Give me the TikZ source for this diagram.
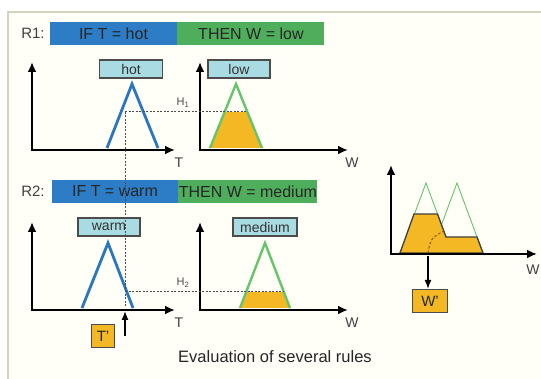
\documentclass[tikz,border=0pt]{standalone}
\usepackage{fontspec}
\setmainfont{Liberation Sans}
\usepackage{tikz}
\usetikzlibrary{arrows.meta, positioning}
\definecolor{colorIf}{HTML}{2C7CC6}
\definecolor{colorThen}{HTML}{4FAE5B}
\definecolor{colorTag}{HTML}{A9DCE2}
\definecolor{colorOut}{HTML}{F3B823}
\definecolor{colorTri}{HTML}{2A77C0}
\definecolor{colorMf}{HTML}{66C46A}
\definecolor{colorPanel}{HTML}{FFFEF7}
\definecolor{colorEdge}{HTML}{D6D2C0}
\definecolor{colorCog}{HTML}{8A5A20}

\tikzset{
    axis/.style={line width=2.6pt, line join=miter, {Latex[length=10pt,width=9pt]}-{Latex[length=10pt,width=9pt]}},
    ifbar/.style={fill=colorIf, minimum height=23pt, inner sep=0pt, text=black!85, font=\fontsize{16}{18}\selectfont},
    thenbar/.style={fill=colorThen, minimum height=23pt, inner sep=0pt, text=black!85, font=\fontsize{16}{18}\selectfont},
    rlbl/.style={text=black!75, font=\fontsize{15}{17}\selectfont},
    tag/.style={draw=black!70, fill=colorTag, line width=1.2pt, minimum height=18pt, inner sep=0pt, text=black!80, font=\fontsize{14}{16}\selectfont},
    outbox/.style={draw=black!70, fill=colorOut, line width=1.2pt, inner sep=0pt, text=black!85, font=\fontsize{15}{17}\selectfont},
    axlbl/.style={text=black!75, font=\fontsize{14}{16}\selectfont},
    hlbl/.style={text=black!70, font=\fontsize{11}{13}\selectfont},
    mfT/.style={colorTri, line width=2.8pt, line join=miter},
    mfW/.style={colorMf, line width=2.4pt, line join=miter},
    cut/.style={black!70, line width=1pt, dash pattern=on 2pt off 1.5pt},
    pointer/.style={-{Latex[length=9pt,width=7pt]}, line width=1.3pt}
}

\begin{document}
\begin{tikzpicture}[x=1pt,y=-1pt]
        \useasboundingbox (0,0) rectangle (541,379);
        \fill[colorPanel] (8,12) rectangle (541,379);
        \draw[colorEdge, line width=2pt] (8,379) -- (8,12) -- (541,12);

        % rule 1
        \draw (33,33) node[rlbl] (r1) {R1:};
        \draw (113.5,33.5) node[ifbar, minimum width=127pt] (if1) {IF T = hot};
        \node[thenbar, minimum width=147pt, right=0pt of if1] (then1) {THEN W = low};

        \draw[axis] (32,62) -- (32,150) -- (175,150);
        \draw (179,163) node[axlbl] (t1) {T};
        \draw (131,69) node[tag, minimum width=63pt] (hot) {hot};
        \draw[mfT] (107,148) -- (132,84) -- (158,148);

        \fill[colorOut] (210,148) -- (224.6,112) -- (247.4,112) -- (262,148) -- cycle;
        \draw[mfW] (210,148) -- (236,84) -- (262,148);
        \draw[axis] (200,62) -- (200,150) -- (348,150);
        \draw (352,163) node[axlbl] (w1) {W};
        \draw (239,69) node[tag, minimum width=62pt] (low) {low};
        \draw[cut] (125,112) -- (247.4,112);
        \draw (183,103) node[hlbl] (h1) {H\textsubscript{1}};

        % rule 2
        \draw (33,191) node[rlbl] (r2) {R2:};
        \draw (115,191.5) node[ifbar, minimum width=126pt] (if2) {IF T = warm};
        \node[thenbar, minimum width=139pt, right=0pt of if2] (then2) {THEN W = medium};

        \draw[axis] (32,222) -- (32,310) -- (175,310);
        \draw (179,323) node[axlbl] (t2) {T};
        \draw (109,227) node[tag, minimum width=62pt] (warm) {warm};
        \draw[mfT] (82,308) -- (108,243) -- (133,308);

        \fill[colorOut] (240,308) -- (246.2,292) -- (283.8,292) -- (290,308) -- cycle;
        \draw[mfW] (240,308) -- (265,243) -- (290,308);
        \draw[axis] (200,222) -- (200,310) -- (348,310);
        \draw (352,323) node[axlbl] (w2) {W};
        \draw (265,227) node[tag, minimum width=64pt] (medium) {medium};
        \draw[cut] (125,292) -- (283.8,292);
        \draw (183,283) node[hlbl] (h2) {H\textsubscript{2}};

        % input value
        \draw[cut] (125,112) -- (125,306);
        \coordinate (tc) at (125,311);
        \draw (103,336) node[outbox, minimum size=23pt] (tin) {T'};
        \draw[pointer] (tc |- tin) -- (tc);

        % aggregation
        \draw[mfW, line width=0.9pt] (400,253) -- (426,183) -- (452,253);
        \draw[mfW, line width=0.9pt] (431,253) -- (457,183) -- (483,253);
        \filldraw[fill=colorOut, draw=black!75, line width=1.3pt, line join=miter] (400,253) -- (414,214) -- (437.5,214) -- (446,237) -- (477,237) -- (483,253) -- cycle;
        \draw[colorCog, line width=1pt, dash pattern=on 2.5pt off 2pt] (428,253) .. controls (431,238) .. (444,231);
        \draw[axis] (391,165) -- (391,254) -- (537,254);
        \draw (533,270) node[axlbl] (w3) {W};
        \coordinate (wc) at (428,256);
        \draw (430,301) node[outbox, minimum width=35pt, minimum height=23pt] (wout) {W'};
        \draw[pointer] (wc) -- (wc |- wout.north);

        \draw (275,357) node[font=\fontsize{16.5}{19}\selectfont, text=black!85] (caption) {Evaluation of several rules};
    \end{tikzpicture}
\end{document}
